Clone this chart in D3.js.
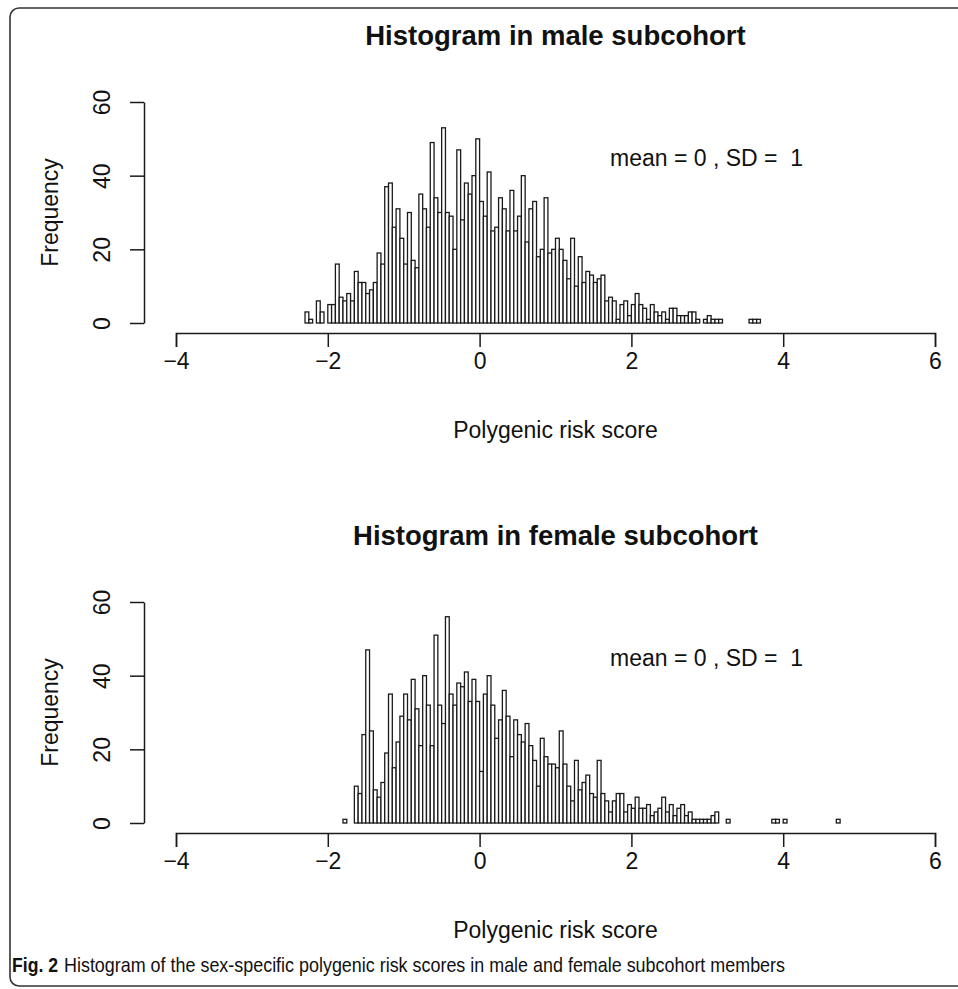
<!DOCTYPE html>
<html>
<head>
<meta charset="utf-8">
<script src="https://cdn.jsdelivr.net/npm/d3@7"></script>
<style>
  body { margin: 0; background: #fff; }
  text { font-family: "Liberation Sans", Arial, sans-serif; fill: #111; }
</style>
</head>
<body>
<svg width="958" height="989"></svg>
<script>
// histogram bins: width 0.05, counts
const binWidth = 0.05;
const maleStart = -2.3;
const maleCounts = [3, 1, 0, 6, 3, 0, 5, 5, 16, 7, 6, 8, 6, 14, 11, 11, 8, 9, 11, 19,
  16, 37, 38, 26, 31, 23, 16, 30, 17, 15, 35, 31, 26, 49, 34, 30, 53, 30, 29, 20,
  47, 28, 38, 35, 40, 50, 33, 29, 41, 25, 26, 34, 31, 25, 36, 25, 29, 40, 22, 31,
  33, 18, 20, 34, 19, 20, 23, 20, 17, 12, 23, 10, 18, 11, 14, 13, 11, 12, 13, 6,
  7, 6, 1, 5, 6, 2, 5, 8, 5, 4, 1, 5, 3, 2, 3, 1, 4, 4, 2, 2,
  2, 3, 3, 1, 0, 1, 2, 1, 1, 1, 0, 0, 0, 0, 0, 0, 0, 1, 1, 1];
const femaleStart = -1.8;
const femaleCounts = [1, 0, 0, 10, 8, 24, 47, 25, 9, 7, 11, 19, 35, 15, 22, 29, 35, 28, 39, 31,
  21, 40, 32, 21, 51, 32, 27, 56, 35, 32, 38, 37, 41, 33, 39, 33, 14, 35, 40, 32,
  23, 28, 36, 29, 18, 28, 24, 22, 27, 21, 17, 10, 23, 18, 16, 16, 15, 25, 16, 10,
  6, 17, 9, 11, 13, 8, 7, 17, 8, 6, 3, 6, 8, 8, 3, 5, 4, 7, 4, 4,
  5, 2, 3, 4, 7, 3, 5, 2, 4, 5, 2, 3, 1, 1, 1, 1, 1, 2, 3, 0,
  0, 1, 0, 0, 0, 0, 0, 0, 0, 0, 0, 0, 0, 1, 1, 0, 1, 0, 0, 0,
  0, 0, 0, 0, 0, 0, 0, 0, 0, 0, 1];

const xTicks = [-4, -2, 0, 2, 4, 6];
const yTicks = [0, 20, 40, 60];
const panels = [
  { title: "Histogram in male subcohort", start: maleStart, counts: maleCounts, top: 0 },
  { title: "Histogram in female subcohort", start: femaleStart, counts: femaleCounts, top: 500 }
];

const svg = d3.select("svg");

// figure frame
svg.append("rect")
  .attr("x", 10).attr("y", 8)
  .attr("width", 980).attr("height", 978)
  .attr("rx", 9)
  .attr("fill", "none")
  .attr("stroke", "#333")
  .attr("stroke-width", 1.6);

const x = d3.scaleLinear().domain([-4, 6]).range([176, 935]);

const drawPanel = (p) => {
  const g = svg.append("g").attr("transform", `translate(0,${p.top})`);
  const y = d3.scaleLinear().domain([0, 60]).range([323, 102]);

  const bins = p.counts.map((c, i) => ({
    x0: p.start + i * binWidth,
    x1: p.start + (i + 1) * binWidth,
    n: c
  })).filter((d) => d.n > 0);

  g.selectAll("rect.bar")
    .data(bins)
    .enter()
    .append("rect")
    .attr("class", "bar")
    .attr("x", (d) => x(d.x0))
    .attr("y", (d) => y(d.n))
    .attr("width", (d) => x(d.x1) - x(d.x0))
    .attr("height", (d) => y(0) - y(d.n))
    .attr("fill", "#fff")
    .attr("stroke", "#1a1a1a")
    .attr("stroke-width", 1.3);

  // x axis
  const xAxis = g.append("g")
    .attr("transform", "translate(0,333)")
    .call(d3.axisBottom(x).tickValues(xTicks).tickSize(14).tickPadding(6)
      .tickFormat((d) => (d < 0 ? "\u2212" + Math.abs(d) : d)));
  xAxis.select(".domain").attr("stroke", "#1a1a1a").attr("stroke-width", 1.5);
  xAxis.selectAll(".tick line").attr("stroke", "#1a1a1a").attr("stroke-width", 1.5);
  xAxis.selectAll(".tick text")
    .attr("font-size", 23)
    .attr("font-family", "Liberation Sans, Arial, sans-serif")
    .attr("fill", "#111");

  // y axis
  const yAxis = g.append("g")
    .attr("transform", "translate(144,0)")
    .call(d3.axisLeft(y).tickValues(yTicks).tickSize(14).tickSizeOuter(0).tickFormat(d3.format("d")));
  yAxis.select(".domain").attr("stroke", "#1a1a1a").attr("stroke-width", 1.5);
  yAxis.selectAll(".tick line").attr("stroke", "#1a1a1a").attr("stroke-width", 1.5);
  yAxis.selectAll(".tick text")
    .attr("x", null).attr("dy", null)
    .attr("text-anchor", "middle")
    .attr("transform", "translate(-34,0) rotate(-90)")
    .attr("font-size", 23)
    .attr("font-family", "Liberation Sans, Arial, sans-serif")
    .attr("fill", "#111");

  g.append("text")
    .attr("x", x(1)).attr("y", 45)
    .attr("text-anchor", "middle")
    .attr("font-size", 27.5)
    .attr("font-weight", "bold")
    .text(p.title);

  g.append("text")
    .attr("x", x(1)).attr("y", 438)
    .attr("text-anchor", "middle")
    .attr("font-size", 23)
    .text("Polygenic risk score");

  g.append("text")
    .attr("transform", `translate(58,${y(30)}) rotate(-90)`)
    .attr("text-anchor", "middle")
    .attr("font-size", 23)
    .text("Frequency");

  g.append("text")
    .attr("x", 610).attr("y", 166)
    .attr("font-size", 23)
    .style("white-space", "pre")
    .text("mean = 0 , SD =  1");
};

panels.forEach(drawPanel);

// caption
svg.append("text")
  .attr("x", 12).attr("y", 972)
  .attr("font-size", 21)
  .attr("font-weight", "bold")
  .attr("textLength", 46)
  .attr("lengthAdjust", "spacingAndGlyphs")
  .style("font-family", "'Liberation Sans Narrow', 'Liberation Sans', Arial, sans-serif")
  .text("Fig. 2");
svg.append("text")
  .attr("x", 64).attr("y", 972)
  .attr("font-size", 21)
  .attr("textLength", 721)
  .attr("lengthAdjust", "spacingAndGlyphs")
  .style("font-family", "'Liberation Sans Narrow', 'Liberation Sans', Arial, sans-serif")
  .text("Histogram of the sex-specific polygenic risk scores in male and female subcohort members");
</script>
</body>
</html>
